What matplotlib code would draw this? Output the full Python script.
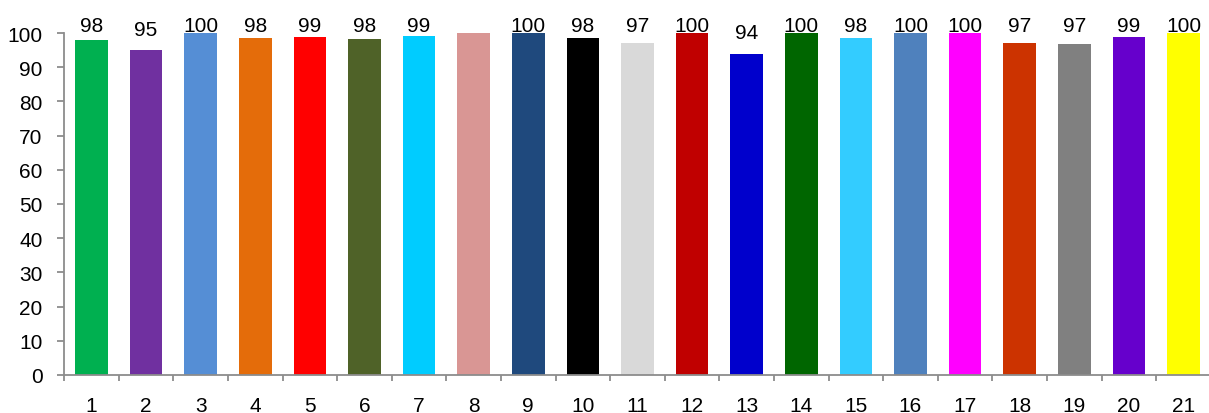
import matplotlib
matplotlib.use("Agg")
import matplotlib.pyplot as plt
from matplotlib.ticker import FixedLocator

categories = [str(i) for i in range(1, 22)]
values = [98.0, 95.0, 100, 98.4, 98.8, 98.2, 99.1, 100, 100, 98.4, 97.1,
          100, 93.9, 100, 98.4, 100, 100, 97.1, 96.8, 98.8, 100]
labels = ["98", "95", "100", "98", "99", "98", "99", "", "100", "98", "97",
          "100", "94", "100", "98", "100", "100", "97", "97", "99", "100"]
colors = ["#00B050", "#7030A0", "#558ED5", "#E46C0A", "#FF0000", "#4F6228",
          "#00CCFF", "#D99694", "#1F497D", "#000000", "#D9D9D9", "#C00000",
          "#0000CC", "#006600", "#33CCFF", "#4F81BD", "#FF00FF", "#CC3300",
          "#808080", "#6600CC", "#FFFF00"]

plt.rcParams['font.family'] = ['Liberation Sans', 'DejaVu Sans']
FS = 15

W, H = 1209, 414
fig = plt.figure(figsize=(W / 100, H / 100), dpi=100)
ax = fig.add_axes([64.2 / W, 1 - 376 / H, 1146.6 / W, 342 / H])

x = list(range(len(categories)))
ax.bar(x, values, width=0.6, color=colors, zorder=2)
for xi, v, lab in zip(x, values, labels):
    if lab:
        ax.text(xi, min(v + 4.5, 100.6), lab, ha='center', va='baseline',
                fontsize=FS, color='black', clip_on=False)

ax.set_xlim(-0.5, len(categories) - 0.5)
ax.set_ylim(0, 100)
ax.set_yticks(range(0, 101, 10))
ax.set_yticklabels([str(v) for v in range(0, 101, 10)])
ax.set_xticks(x)
ax.set_xticklabels(categories)
ax.xaxis.set_minor_locator(FixedLocator([i - 0.5 for i in range(len(categories) + 1)]))

spine_c = '#8C8C8C'
for s in ['top', 'right']:
    ax.spines[s].set_visible(False)
for s in ['left', 'bottom']:
    ax.spines[s].set_color(spine_c)
    ax.spines[s].set_linewidth(1.3)
ax.tick_params(axis='y', which='major', direction='out', length=5, width=1.3,
               color=spine_c, pad=10.5, labelsize=FS)
ax.tick_params(axis='x', which='major', length=0, pad=15, labelsize=FS)
ax.tick_params(axis='x', which='minor', direction='out', length=4.5, width=1.3,
               color=spine_c)

fig.savefig("out.png", dpi=100)
